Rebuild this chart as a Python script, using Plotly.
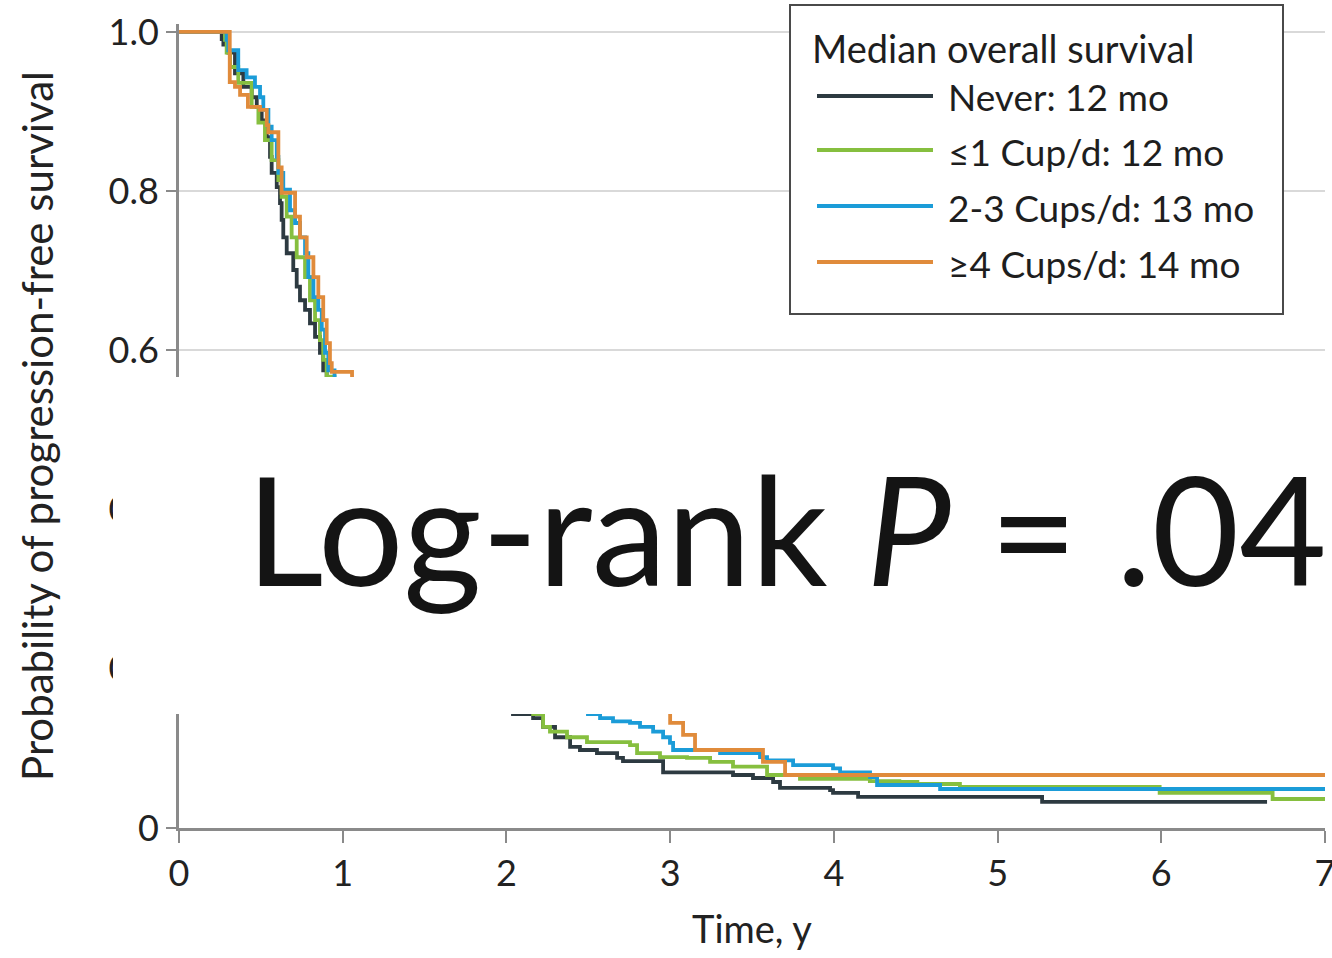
import plotly.graph_objects as go

# Coffee intake groups, median survival (months) and line colours
groups = ["Never", "≤1 Cup/d", "2-3 Cups/d", "≥4 Cups/d"]
median_months = [12, 12, 13, 14]
colors = ["#2d3a41", "#86bf3f", "#1b9cd8", "#e08b3b"]

# Kaplan-Meier step curves: time (years) and survival probability from that time on
never_t = [0, 0.261, 0.271, 0.301, 0.342, 0.393, 0.444, 0.475, 0.505, 0.536, 0.556, 0.566,
           0.597, 0.617, 0.627, 0.637, 0.658, 0.698, 0.719, 0.739, 0.770, 0.800, 0.831, 0.861,
           0.881, 0.902, 0.95, 1.0, 1.1, 1.2, 1.3, 1.4, 1.5, 1.6, 1.7, 1.8, 1.9, 2.0,
           2.04, 2.163, 2.224, 2.297, 2.389, 2.449, 2.553, 2.676, 2.712, 2.957, 3.384, 3.506,
           3.629, 3.671, 3.977, 3.995, 4.148, 5.272, 6.646]
never_s = [1.0, 0.991, 0.984, 0.974, 0.948, 0.931, 0.918, 0.906, 0.889, 0.868, 0.843, 0.823,
           0.805, 0.785, 0.764, 0.742, 0.722, 0.701, 0.680, 0.663, 0.651, 0.634, 0.617, 0.597,
           0.575, 0.563, 0.53, 0.50, 0.45, 0.40, 0.36, 0.32, 0.285, 0.255, 0.225, 0.20, 0.175, 0.155,
           0.143, 0.138, 0.127, 0.114, 0.102, 0.098, 0.094, 0.088, 0.084, 0.070, 0.0666, 0.0628,
           0.0578, 0.0503, 0.0477, 0.044, 0.039, 0.0327, 0.0327]

cup1_t = [0, 0.281, 0.291, 0.312, 0.362, 0.444, 0.485, 0.525, 0.566, 0.607, 0.627, 0.658,
          0.688, 0.719, 0.770, 0.800, 0.831, 0.861, 0.881, 0.902, 0.95, 1.0, 1.1, 1.2, 1.3,
          1.4, 1.5, 1.6, 1.7, 1.8, 1.9, 2.0, 2.1, 2.163, 2.224, 2.266, 2.370, 2.492, 2.755,
          2.798, 2.938, 3.103, 3.244, 3.384, 3.592, 3.793, 4.22, 4.40, 4.51, 4.77, 5.99, 6.68, 7.0]
cup1_s = [1.0, 0.990, 0.974, 0.956, 0.936, 0.906, 0.886, 0.864, 0.839, 0.814, 0.793, 0.768,
          0.742, 0.717, 0.692, 0.663, 0.638, 0.613, 0.588, 0.567, 0.54, 0.50, 0.455, 0.41, 0.37,
          0.33, 0.295, 0.265, 0.235, 0.21, 0.185, 0.165, 0.15, 0.143, 0.127, 0.121, 0.114, 0.108, 0.104,
          0.094, 0.089, 0.088, 0.083, 0.077, 0.0666, 0.0616, 0.059, 0.0578, 0.0553, 0.0515, 0.044,
          0.0364, 0.0364]

cup23_t = [0, 0.291, 0.301, 0.362, 0.413, 0.464, 0.495, 0.515, 0.546, 0.566, 0.597, 0.607,
           0.637, 0.678, 0.709, 0.739, 0.770, 0.790, 0.821, 0.851, 0.872, 0.892, 0.912, 0.95,
           1.0, 1.08, 1.2, 1.3, 1.4, 1.5, 1.6, 1.7, 1.8, 1.9, 2.0, 2.1, 2.2, 2.3, 2.4,
           2.498, 2.572, 2.651, 2.755, 2.816, 2.896, 2.957, 2.999, 3.018, 3.305, 3.549, 3.592,
           3.751, 3.995, 4.038, 4.221, 4.264, 4.649, 7.0]
cup23_s = [1.0, 0.990, 0.977, 0.952, 0.943, 0.931, 0.918, 0.902, 0.881, 0.864, 0.843, 0.823,
           0.802, 0.776, 0.760, 0.742, 0.722, 0.692, 0.667, 0.651, 0.626, 0.597, 0.575, 0.555,
           0.535, 0.50, 0.45, 0.41, 0.375, 0.34, 0.31, 0.285, 0.26, 0.24, 0.22, 0.205, 0.19, 0.175, 0.16,
           0.143, 0.138, 0.134, 0.132, 0.127, 0.121, 0.114, 0.107, 0.098, 0.094, 0.089, 0.085,
           0.079, 0.075, 0.070, 0.064, 0.054, 0.049, 0.049]

cup4_t = [0, 0.31, 0.342, 0.373, 0.421, 0.495, 0.536, 0.546, 0.607, 0.627, 0.709, 0.739,
          0.780, 0.821, 0.851, 0.881, 0.902, 0.922, 0.933, 1.057, 1.1, 1.17, 1.25, 1.35, 1.45,
          1.55, 1.65, 1.75, 1.85, 1.95, 2.05, 2.2, 2.35, 2.5, 2.65, 2.8, 3.0, 3.079, 3.152,
          3.567, 3.702, 7.0]
cup4_s = [1.0, 0.937, 0.931, 0.921, 0.906, 0.902, 0.883, 0.874, 0.830, 0.798, 0.768, 0.742,
          0.717, 0.692, 0.667, 0.638, 0.609, 0.584, 0.573, 0.555, 0.535, 0.50, 0.47, 0.43, 0.40,
          0.37, 0.34, 0.31, 0.29, 0.27, 0.25, 0.225, 0.20, 0.18, 0.17, 0.16, 0.132, 0.117, 0.098,
          0.083, 0.0666, 0.0666]

x_ticks = [0, 1, 2, 3, 4, 5, 6, 7]
y_ticks = [0, 0.2, 0.4, 0.6, 0.8, 1.0]
y_ticktext = ["0", "0.2", "0.4", "0.6", "0.8", "1.0"]

FONT = "Lato, 'Open Sans', sans-serif"
AXIS_GRAY = "#8a8a8a"

curves = [(never_t, never_s), (cup1_t, cup1_s), (cup23_t, cup23_s), (cup4_t, cup4_s)]

fig = go.Figure()
for (t, s), name, color in zip(curves, groups, colors):
    fig.add_trace(go.Scatter(x=t, y=s, mode="lines", name=name,
                             line=dict(color=color, width=3.8, shape="hv"),
                             showlegend=False))

# Plot area in pixels: x 179..1325, y 24..828
L, R, T, B = 179, 7, 24, 130
W, H = 1332, 958
PW, PH = W - L - R, H - T - B


def px(xp):
    return (xp - L) / PW


def py(yp):
    return (T + PH - yp) / PH


shapes = []
annotations = []

# White panel over the middle of the plot
shapes.append(dict(type="rect", xref="paper", yref="paper",
                   x0=px(113), x1=px(1340), y0=py(714), y1=py(377),
                   fillcolor="white", line=dict(width=0), layer="above"))

annotations.append(dict(xref="paper", yref="paper", x=px(244), y=py(527),
                        xanchor="left", yanchor="middle", showarrow=False,
                        text="Log-rank <i>P</i> = .04",
                        font=dict(family=FONT, size=151, color="#141414")))

# Legend box
shapes.append(dict(type="rect", xref="paper", yref="paper",
                   x0=px(790), x1=px(1283), y0=py(314), y1=py(5),
                   fillcolor="white", line=dict(color="#4a4a4a", width=2), layer="above"))
annotations.append(dict(xref="paper", yref="paper", x=px(810), y=py(48),
                        xanchor="left", yanchor="middle", showarrow=False,
                        text="Median overall survival",
                        font=dict(family=FONT, size=38, color="#1e1e1e")))
item_y = [96, 150, 206, 262]
for name, months, color, yy in zip(groups, median_months, colors, item_y):
    shapes.append(dict(type="line", xref="paper", yref="paper",
                       x0=px(817), x1=px(933), y0=py(yy), y1=py(yy),
                       line=dict(color=color, width=4), layer="above"))
    annotations.append(dict(xref="paper", yref="paper", x=px(946), y=py(yy + 1),
                            xanchor="left", yanchor="middle", showarrow=False,
                            text=f"{name}: {months} mo",
                            font=dict(family=FONT, size=37, color="#1e1e1e")))

fig.update_layout(
    width=W, height=H,
    margin=dict(l=L, r=R, t=T, b=B, autoexpand=False),
    paper_bgcolor="white", plot_bgcolor="white",
    font=dict(family=FONT, color="#222"),
    shapes=shapes, annotations=annotations,
    showlegend=False,
)
fig.update_xaxes(range=[0, 7], tickvals=x_ticks, ticks="outside", ticklen=12,
                 tickwidth=2, tickcolor=AXIS_GRAY, showline=True, linecolor=AXIS_GRAY,
                 linewidth=3, showgrid=False, zeroline=False, ticklabeloverflow="allow",
                 tickfont=dict(family=FONT, size=36, color="#222"),
                 title=dict(text="Time, y", standoff=24,
                            font=dict(family=FONT, size=38, color="#222")))
fig.update_yaxes(range=[0, 1.01], tickvals=y_ticks, ticktext=y_ticktext, ticks="outside",
                 ticklen=10, tickwidth=2, tickcolor=AXIS_GRAY, showline=True,
                 linecolor=AXIS_GRAY, linewidth=3, showgrid=True, gridcolor="#d9d9d9",
                 gridwidth=2, zeroline=False,
                 tickfont=dict(family=FONT, size=36, color="#222"),
                 title=dict(text="Probability of progression-free survival", standoff=42,
                            font=dict(family=FONT, size=42, color="#222")))

fig.write_html("out.html")
